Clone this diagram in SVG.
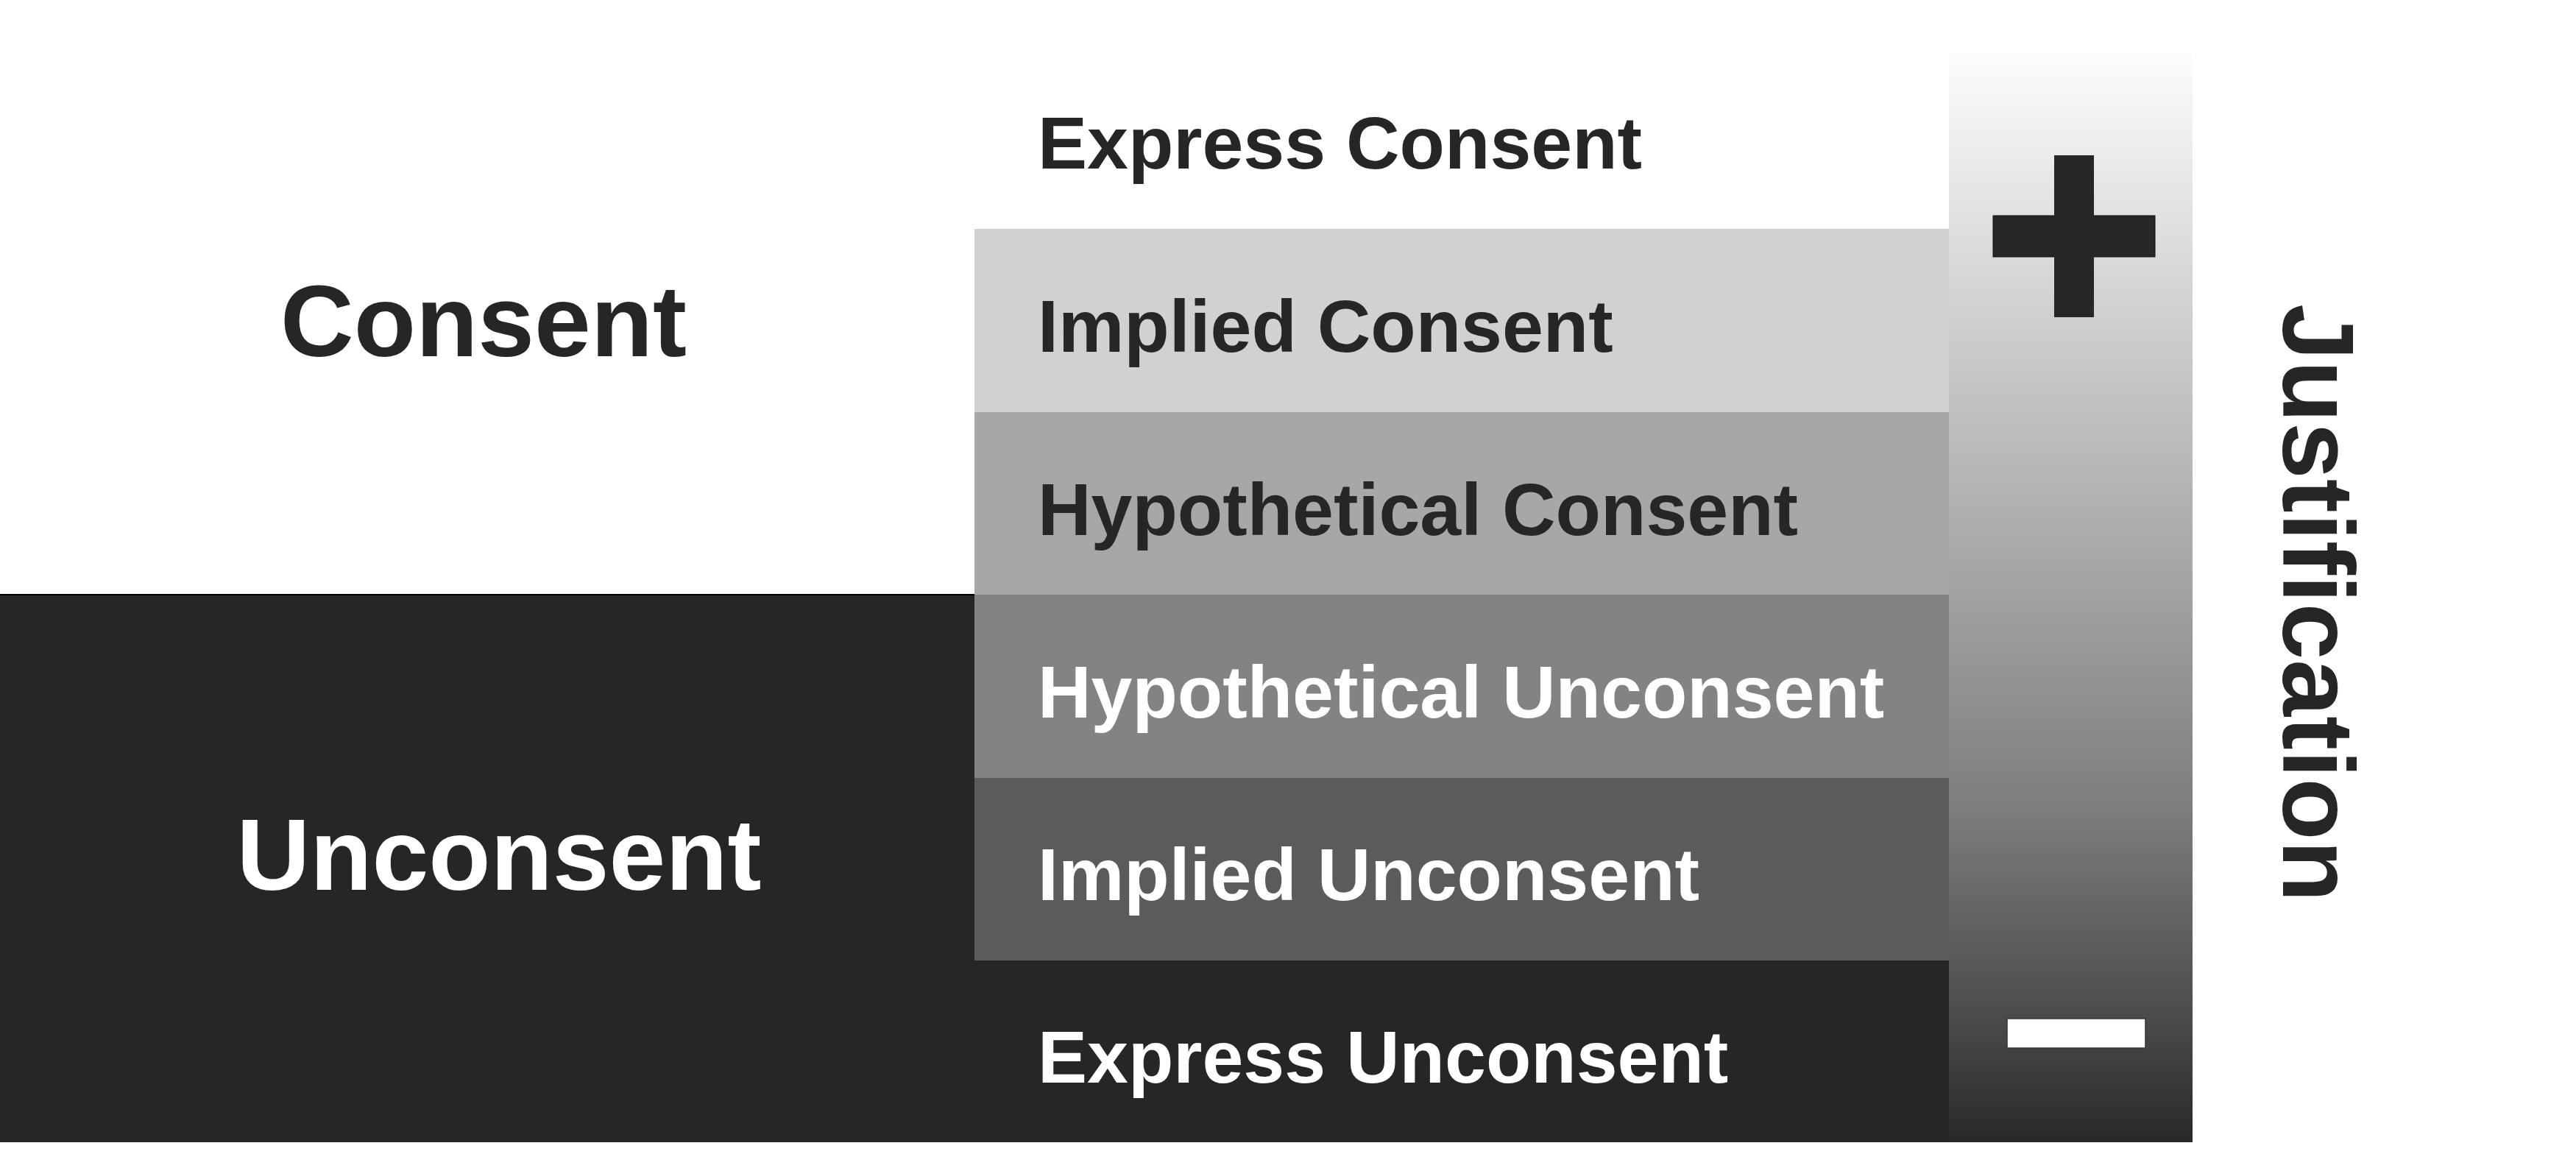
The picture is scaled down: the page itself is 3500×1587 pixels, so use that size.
<svg xmlns="http://www.w3.org/2000/svg" width="3500" height="1587" viewBox="0 0 3500 1587">
  <style>
    .lbl { font-family: "Liberation Sans", Arial, sans-serif; font-weight: bold; font-size: 100.5px; }
    .big { font-family: "Liberation Sans", Arial, sans-serif; font-weight: bold; font-size: 138px; }
    .dk { fill: #262626; }
    .wt { fill: #ffffff; }
  </style>
  <defs>
    <linearGradient id="justGrad" x1="0" y1="0" x2="0" y2="1">
      <stop offset="0" stop-color="#fdfdfd"/>
      <stop offset="0.24" stop-color="#d0d0d0"/>
      <stop offset="0.48" stop-color="#a5a5a5"/>
      <stop offset="0.69" stop-color="#7e7e7e"/>
      <stop offset="0.89" stop-color="#4a4a4a"/>
      <stop offset="1" stop-color="#282828"/>
    </linearGradient>
  </defs>
  <rect x="0" y="0" width="3500" height="1587" fill="#ffffff"/>

  <g id="unconsent">
    <rect x="0" y="808" width="2648" height="744" fill="#262626"/>
    <line x1="0" y1="808" x2="1330" y2="808" stroke="#000000" stroke-width="2"/>
    <text class="big wt" x="678" y="1209" text-anchor="middle">Unconsent</text>
  </g>

  <g id="consent">
    <text class="big dk" x="657" y="484" text-anchor="middle">Consent</text>
  </g>

  <g id="express-consent">
    <text class="lbl dk" x="1410" y="229">Express Consent</text>
  </g>

  <g id="implied-consent">
    <rect x="1324" y="311" width="1324" height="249" fill="#d1d1d1"/>
    <text class="lbl dk" x="1410" y="478">Implied Consent</text>
  </g>

  <g id="hypothetical-consent">
    <rect x="1324" y="560" width="1324" height="248" fill="#a7a7a7"/>
    <text class="lbl dk" x="1410" y="727">Hypothetical Consent</text>
  </g>

  <g id="hypothetical-unconsent">
    <rect x="1324" y="808" width="1324" height="249" fill="#838383"/>
    <text class="lbl wt" x="1410" y="975">Hypothetical Unconsent</text>
  </g>

  <g id="implied-unconsent">
    <rect x="1324" y="1057" width="1324" height="248" fill="#5b5b5b"/>
    <text class="lbl wt" x="1410" y="1223">Implied Unconsent</text>
  </g>

  <g id="express-unconsent">
    <text class="lbl wt" x="1410" y="1471">Express Unconsent</text>
  </g>

  <g id="justification-bar">
    <rect x="2648" y="71" width="331" height="1481" fill="url(#justGrad)"/>
    <rect x="2708" y="293" width="220" height="56" fill="#262626" stroke="#111" stroke-width="1"/>
    <rect x="2791" y="211" width="54" height="220" fill="#262626"/>
    <rect x="2727" y="1384" width="188" height="40" fill="#ffffff" stroke="#333333" stroke-width="1.5"/>
  </g>

  <g id="justification-label">
    <text class="big dk" transform="translate(3102,413) rotate(90)" x="0" y="0">Justification</text>
  </g>

  <g id="connectors"></g>
</svg>
